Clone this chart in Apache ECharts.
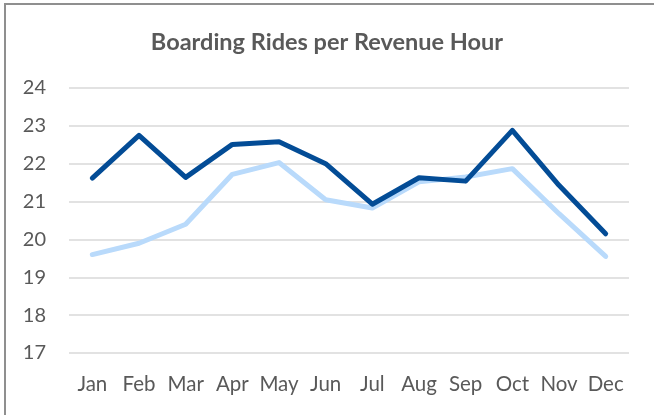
<!DOCTYPE html>
<html>
<head>
<meta charset="utf-8">
<script src="https://cdn.jsdelivr.net/npm/echarts@6/dist/echarts.min.js"></script>
<style>
html,body{margin:0;padding:0;background:#fff;overflow:hidden}
#frame{position:absolute;left:4px;top:3px;width:700px;height:460px;border-left:2px solid #8f8f8f;border-top:2px solid #8f8f8f;}
#chart{position:absolute;left:0;top:0;width:654px;height:415px}
</style>
</head>
<body>
<div id="frame"></div>
<div id="chart"></div>
<script>
var months = ['Jan','Feb','Mar','Apr','May','Jun','Jul','Aug','Sep','Oct','Nov','Dec']
var darkLine = [21.62,22.75,21.64,22.51,22.58,22.0,20.93,21.63,21.54,22.88,21.43,20.15]
var lightLine = [19.6,19.9,20.4,21.72,22.03,21.05,20.83,21.52,21.65,21.87,20.68,19.55]
var yTicks = {min:17,max:24,step:1}

var chart = echarts.init(document.getElementById('chart'))
var font = 'Lato, "Noto Sans", sans-serif'
var option = {
    animation:false,
    title:{
        text:'Boarding Rides per Revenue Hour',
        left:'center',
        top:25,
        textStyle:{
            fontFamily:font,
            fontSize:23.5,
            fontWeight:'bold',
            color:'#595959'
        }
    },
    grid:{left:69,right:25,top:88,bottom:62},
    xAxis:{
        type:'category',
        data:months,
        boundaryGap:true,
        axisLine:{show:false},
        axisTick:{show:false},
        axisLabel:{
            interval:0,
            margin:21,
            fontFamily:font,
            fontSize:20.5,
            color:'#595959'
        }
    },
    yAxis:{
        type:'value',
        min:yTicks.min,
        max:yTicks.max,
        interval:yTicks.step,
        axisLabel:{
            margin:23,
            fontFamily:font,
            fontSize:20,
            color:'#595959'
        },
        splitLine:{lineStyle:{color:'#d9d9d9',width:1.5}}
    },
    series:[{
        name:'light',
        type:'line',
        data:lightLine,
        symbol:'none',
        lineStyle:{color:'#b9dafb',width:5,cap:'round',join:'round'}
    },{
        name:'dark',
        type:'line',
        data:darkLine,
        symbol:'none',
        lineStyle:{color:'#034c96',width:5,cap:'round',join:'round'}
    }]
}
chart.setOption(option)
</script>
</body>
</html>
